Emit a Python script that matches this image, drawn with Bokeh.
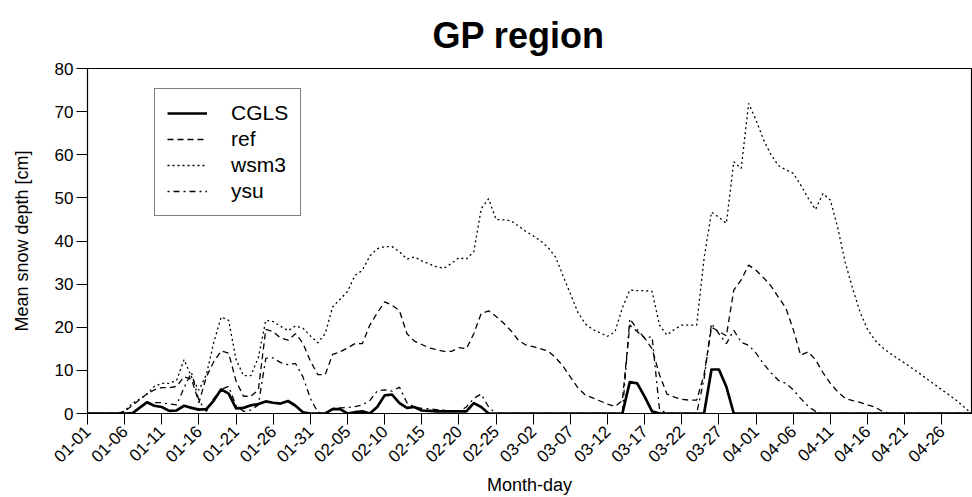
import math
from bokeh.plotting import figure
from bokeh.models import Range1d, FixedTicker, Legend, LegendItem
from bokeh.embed import file_html
from bokeh.resources import INLINE

# ---------------- data ----------------
day_index = list(range(120))  # 0 = 01-01 ... 119 = 04-30
tick_days = list(range(0, 116, 5))
tick_labels = ["01-01", "01-06", "01-11", "01-16", "01-21", "01-26", "01-31",
               "02-05", "02-10", "02-15", "02-20", "02-25", "03-02", "03-07",
               "03-12", "03-17", "03-22", "03-27", "04-01", "04-06", "04-11",
               "04-16", "04-21", "04-26"]
y_ticks = [0, 10, 20, 30, 40, 50, 60, 70, 80]

cgls = [0, 0, 0, 0, 0, 0, 0, 1.3, 2.6, 1.8,
        1.5, 0.6, 0.7, 1.8, 1.3, 0.9, 1.0, 3.0, 5.6, 4.6,
        1.2, 1.3, 1.9, 2.2, 2.8, 2.5, 2.3, 2.9, 1.8, 0.3,
        0, 0, 0, 1.0, 1.0, 0, 0.3, 0.5, 0, 1.5,
        4.2, 4.4, 2.4, 1.3, 1.5, 0.7, 0.6, 0.5, 0.5, 0.5,
        0.5, 0.5, 2.4, 1.5, 0, 0, 0, 0, 0, 0,
        0, 0, 0, 0, 0, 0, 0, 0, 0, 0,
        0, 0, 0, 7.3, 7.0, 3.9, 0.5, 0, 0, 0,
        0, 0, 0, 0, 10.2, 10.2, 6.2, 0, 0, 0,
        0, 0, 0, 0, 0, 0, 0, 0, 0, 0,
        0, 0, 0, 0, 0, 0, 0, 0, 0, 0,
        0, 0, 0, 0, 0, 0, 0, 0, 0, 0]

ref = [0, 0, 0, 0, 0, 0.5, 1.8, 3.2, 4.5, 5.5,
       6.0, 6.0, 6.3, 8.5, 8.0, 2.5, 8.5, 12.0, 14.5, 14.0,
       7.5, 4.0, 4.0, 5.5, 19.5, 19.0, 17.5, 17.0, 18.5, 16.3,
       12.2, 9.0, 9.0, 13.7, 14.3, 15.2, 16.2, 16.2, 20.5, 23.3,
       25.9, 25.1, 23.8, 18.5, 16.8, 16.0, 15.2, 14.8, 14.4, 14.4,
       15.3, 15.0, 18.5, 23.2, 23.8, 22.5, 21.0, 19.2, 17.0, 15.9,
       15.5, 15.0, 14.5, 13.0, 11.0, 8.5, 6.0, 4.3, 3.6, 2.9,
       2.2, 1.6, 3.0, 20.5, 19.0, 17.5, 15.0, 9.0, 4.5, 3.8,
       3.3, 3.1, 3.1, 9.0, 20.0, 19.0, 18.0, 28.6, 31.0, 34.4,
       33.2, 31.5, 29.6, 27.0, 24.5, 19.5, 13.5, 14.3, 12.5, 9.5,
       7.0, 5.0, 3.5, 3.0, 2.6, 2.0, 1.5, 0.5, 0, 0,
       0, 0, 0, 0, 0, 0, 0, 0, 0, 0]

wsm3 = [0, 0, 0, 0, 0, 0.5, 2.3, 3.3, 4.5, 6.3,
        7.0, 7.0, 7.7, 12.5, 8.5, 5.4, 9.0, 16.5, 22.4, 21.6,
        12.5, 8.8, 8.8, 13.0, 21.6, 21.3, 20.2, 19.2, 20.3, 19.8,
        18.0, 16.4, 18.5, 24.7, 26.5, 28.3, 32.0, 33.2, 36.5, 38.2,
        38.7, 38.7, 37.5, 35.8, 36.3, 35.4, 34.7, 34.0, 33.7, 34.8,
        36.1, 35.8, 37.5, 47.5, 49.8, 45.0, 44.9, 44.7, 43.5, 42.2,
        41.2, 40.0, 38.5, 36.3, 32.0, 27.8, 23.5, 20.8, 19.5, 18.7,
        17.9, 18.9, 24.5, 28.6, 28.5, 28.5, 28.3, 20.5, 18.2, 19.5,
        20.5, 20.5, 20.5, 36.0, 46.7, 45.5, 44.1, 58.4, 56.8, 71.9,
        68.0, 63.5, 60.0, 57.5, 56.5, 55.7, 53.0, 50.0, 47.3, 51.0,
        49.5, 43.0, 35.0, 29.0, 23.5, 19.5, 17.0, 15.3, 14.0, 12.8,
        11.7, 10.5, 9.3, 8.0, 6.8, 5.5, 4.3, 3.0, 1.5, 0]

ysu = [0, 0, 0, 0, 0, 0, 0.3, 1.3, 2.3, 2.5,
       2.5, 2.2, 2.0, 6.0, 9.5, 3.0, 0.5, 3.5, 5.6, 6.3,
       1.8, 0.5, 0.8, 2.0, 12.8, 12.9, 11.8, 11.3, 11.6, 8.5,
       3.5, 0.3, 0, 1.2, 1.3, 1.4, 1.6, 2.0, 3.0, 5.2,
       5.5, 5.2, 6.1, 2.5, 1.5, 1.2, 1.1, 0.9, 0.8, 0.6,
       0.5, 1.5, 3.5, 4.5, 1.5, 0, 0, 0, 0, 0,
       0, 0, 0, 0, 0, 0, 0, 0, 0, 0,
       0, 0, 0, 22.0, 19.5, 17.5, 17.8, 1.0, 0, 0,
       0, 0, 0, 8.0, 20.9, 18.5, 16.2, 19.3, 16.5, 15.8,
       14.0, 11.5, 9.5, 7.7, 7.0, 5.5, 3.5, 1.7, 0.5, 0,
       0, 0, 0, 0, 0, 0, 0, 0, 0, 0,
       0, 0, 0, 0, 0, 0, 0, 0, 0, 0]

# ---------------- figure ----------------
FONT = "Liberation Sans"
p = figure(width=972, height=497, x_range=Range1d(0, 119), y_range=Range1d(0, 80),
           output_backend="svg", toolbar_location=None,
           min_border_left=87, min_border_right=1, min_border_top=68, min_border_bottom=84,
           title="GP region")
p.background_fill_color = "white"
p.border_fill_color = "white"
p.xgrid.visible = False
p.ygrid.visible = False
p.outline_line_color = "black"
p.outline_line_width = 1.2

p.title.text_font = FONT
p.title.text_font_size = "36px"
p.title.text_font_style = "bold"
p.title.text_color = "black"
p.title.align = "left"
p.title.offset = 345
p.title.standoff = 25

for ax in (p.xaxis[0], p.yaxis[0]):
    ax.major_tick_out = 11
    ax.major_tick_in = 0
    ax.minor_tick_out = 0
    ax.minor_tick_in = 0
    ax.major_tick_line_color = "black"
    ax.axis_line_color = "black"
    ax.major_label_text_font = FONT
    ax.major_label_text_font_size = "17px"
    ax.major_label_text_color = "black"
    ax.axis_label_text_font = FONT
    ax.axis_label_text_font_size = "18px"
    ax.axis_label_text_font_style = "normal"
    ax.axis_label_text_color = "black"

p.xaxis.ticker = FixedTicker(ticks=tick_days)
p.xaxis.major_label_overrides = {d: lab for d, lab in zip(tick_days, tick_labels)}
p.xaxis.major_label_orientation = math.pi / 4
p.xaxis.major_label_standoff = 4
p.xaxis.axis_label = "Month-day"
p.xaxis.axis_label_standoff = 4

p.yaxis.ticker = FixedTicker(ticks=y_ticks)
p.yaxis.major_label_standoff = 3
p.yaxis.axis_label = "Mean snow depth [cm]"
p.yaxis.axis_label_standoff = 20

r_cgls = p.line(day_index, cgls, line_color="black", line_width=2.7, line_join="round")
r_ref = p.line(day_index, ref, line_color="black", line_width=1.3, line_dash="6 4")
r_wsm3 = p.line(day_index, wsm3, line_color="black", line_width=1.3, line_dash="2 3")
r_ysu = p.line(day_index, ysu, line_color="black", line_width=1.3, line_dash="2 4 6 4")

legend = Legend(items=[LegendItem(label="CGLS", renderers=[r_cgls]),
                       LegendItem(label="ref", renderers=[r_ref]),
                       LegendItem(label="wsm3", renderers=[r_wsm3]),
                       LegendItem(label="ysu", renderers=[r_ysu])],
                location=(67, 197))
legend.margin = 0
legend.padding = 12
legend.spacing = 2
legend.glyph_width = 40
legend.glyph_height = 20
legend.label_height = 20
legend.label_standoff = 24
legend.label_text_font = FONT
legend.label_text_font_size = "21px"
legend.label_text_color = "black"
legend.border_line_color = "black"
legend.border_line_width = 1.3
legend.background_fill_color = "white"
legend.background_fill_alpha = 1
p.add_layout(legend)

open("out.html", "w").write(file_html(p, INLINE))
